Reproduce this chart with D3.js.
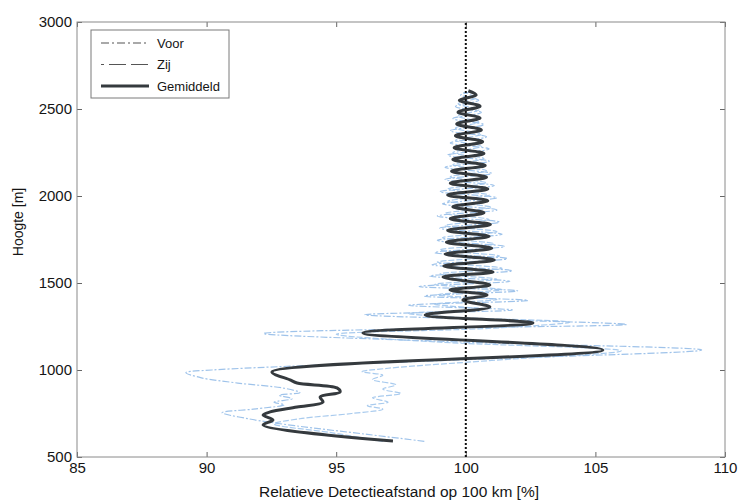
<!DOCTYPE html>
<html><head><meta charset="utf-8">
<script src="https://cdn.jsdelivr.net/npm/d3@7"></script>
<style>
body{margin:0;background:#fff;}
text{font-family:"Liberation Sans",Arial,sans-serif;fill:#151515;}
</style></head>
<body><svg id="c" width="740" height="504"></svg>
<script>
const xTicks = [85, 90, 95, 100, 105, 110];
const yTicks = [500, 1000, 1500, 2000, 2500, 3000];
const seriesNames = ["Voor", "Zij", "Gemiddeld"];

const voorHeight = [590,630,680,720,755,775,800,815,835,855,870,895,925,955,985,1000,1060,1115,1160,1210,1240,1262,1290,1318,1345,1372,1400,1425,1455,1480,1510,1540,1570,1605,1640,1675,1710,1745,1780,1815,1850,1885,1920,1955,1990,2025,2060,2095,2130,2165,2200,2235,2270,2305,2340,2375,2410,2445,2480,2515,2550,2580,2600];
const voorValue = [98.4,96.2,93.4,91.6,90.6,91.8,93.0,92.6,93.3,92.8,93.6,93.0,91.2,89.8,89.2,90.2,100,109.1,100,92.2,99,106.2,101,96.1,101.8,97.8,102.4,98.4,102.0,98.2,101.7,98.6,101.8,98.7,101.6,98.8,101.5,98.9,101.4,99.0,101.3,98.9,101.2,99.1,101.2,99.0,101.1,99.2,101.0,99.2,100.9,99.3,100.9,99.4,100.8,99.4,100.7,99.5,100.6,99.6,100.5,99.8,100.2];

const zijHeight = [590,640,690,720,750,775,795,815,840,865,890,915,945,970,990,1010,1060,1110,1160,1205,1240,1275,1300,1325,1350,1378,1405,1432,1462,1492,1522,1552,1585,1620,1655,1690,1725,1760,1795,1830,1865,1900,1935,1970,2005,2040,2075,2110,2145,2180,2215,2250,2285,2320,2355,2390,2425,2460,2495,2530,2565,2595];
const zijValue = [96.8,94.8,92.6,93.6,95.6,96.8,96.2,97.0,96.4,97.5,96.8,97.3,96.4,96.8,96.0,97.0,101.5,106.0,99,95.0,101,104.0,100,97.8,100.6,98.8,101.2,98.9,101.4,98.8,101.2,99.0,101.4,98.9,101.3,99.0,101.1,99.1,101.2,99.2,100.9,99.2,101.0,99.3,100.9,99.3,100.8,99.4,100.8,99.5,100.7,99.5,100.6,99.6,100.6,99.6,100.5,99.7,100.5,99.7,100.4,99.9];

const gemHeight = [592,684,713,741,759,787,816,845,874,897,925,943,989,1115,1213,1270,1316,1362,1402,1431,1460,1489,1534,1563,1598,1632,1666,1700,1734,1768,1802,1836,1870,1904,1938,1972,2006,2040,2074,2108,2142,2176,2210,2244,2278,2312,2346,2380,2414,2448,2482,2516,2550,2580,2605];
const gemValue = [97.19,92.18,92.56,92.18,92.45,93.49,94.49,94.38,95.15,95.03,93.49,93.22,92.52,105.29,96.03,102.59,98.43,100.93,99.89,100.82,99.39,100.93,99.12,101.05,99.15,101.1,99.2,101.0,99.25,100.9,99.3,100.95,99.4,100.7,99.5,100.85,99.3,100.85,99.4,100.8,99.45,100.75,99.5,100.7,99.55,100.65,99.6,100.6,99.65,100.55,99.7,100.55,99.75,100.4,100.1];

const svg = d3.select("#c");
const x = d3.scaleLinear().domain([85, 110]).range([77, 725]);
const y = d3.scaleLinear().domain([500, 3000]).range([457, 22]);

// axes
const gx = svg.append("g").attr("transform", `translate(0,${y(500)})`)
  .call(d3.axisBottom(x).tickValues(xTicks).tickSize(-5).tickPadding(5).tickFormat(d3.format("d")));
const gxTop = svg.append("g").attr("transform", `translate(0,${y(3000)})`)
  .call(d3.axisTop(x).tickValues(xTicks).tickSize(-5).tickFormat(""));
const gy = svg.append("g").attr("transform", `translate(${x(85)},0)`)
  .call(d3.axisLeft(y).tickValues(yTicks).tickSize(-5).tickPadding(5).tickFormat(d3.format("d")));
const gyR = svg.append("g").attr("transform", `translate(${x(110)},0)`)
  .call(d3.axisRight(y).tickValues(yTicks).tickSize(-5).tickFormat(""));
[gx, gxTop, gy, gyR].forEach(g => {
  g.select(".domain").remove();
  g.selectAll(".tick line").attr("stroke", "#666");
  g.selectAll("text").style("font-size", "15px").style("font-family", "Liberation Sans, Arial, sans-serif").attr("fill", "#151515");
});
svg.append("rect").attr("x", x(85)).attr("y", y(3000))
  .attr("width", x(110) - x(85)).attr("height", y(500) - y(3000))
  .attr("fill", "none").attr("stroke", "#8a8a8a").attr("stroke-width", 1);

const line = d3.line().x(d => x(d[0])).y(d => y(d[1])).curve(d3.curveCatmullRom.alpha(0.5));
const voor = voorValue.map((v, i) => [v, voorHeight[i]]);
const zij = zijValue.map((v, i) => [v, zijHeight[i]]);
const gem = gemValue.map((v, i) => [v, gemHeight[i]]);

svg.append("path").datum(zij).attr("d", line).attr("fill", "none")
  .attr("stroke", "#a9cbee").attr("stroke-width", 1.2).attr("stroke-dasharray", "6,2");
svg.append("path").datum(voor).attr("d", line).attr("fill", "none")
  .attr("stroke", "#9fc3ea").attr("stroke-width", 1.2).attr("stroke-dasharray", "7,2,2,2");
svg.append("path").datum(gem).attr("d", line).attr("fill", "none")
  .attr("stroke", "#353a3e").attr("stroke-width", 3).attr("stroke-linejoin", "round");

// reference line at 100 %
svg.append("line").attr("x1", x(100)).attr("x2", x(100)).attr("y1", y(500)).attr("y2", y(3000))
  .attr("stroke", "#111").attr("stroke-width", 2).attr("stroke-dasharray", "2,2");

// legend
const lg = svg.append("g");
lg.append("rect").attr("x", 91).attr("y", 30).attr("width", 138).attr("height", 68)
  .attr("fill", "#fff").attr("stroke", "#7a7a7a").attr("stroke-width", 1);
const lstyles = [
  {dash: "8,3,2,3", w: 1.2, c: "#555"},
  {dash: "3,5,14,0", w: 1.2, c: "#555"},
  {dash: null, w: 3, c: "#353a3e"}
];
seriesNames.forEach((n, i) => {
  const yy = 43 + i * 21.5;
  const l = lg.append("line").attr("x1", 101).attr("x2", 149).attr("y1", yy).attr("y2", yy)
    .attr("stroke", lstyles[i].c).attr("stroke-width", lstyles[i].w);
  if (lstyles[i].dash) l.attr("stroke-dasharray", lstyles[i].dash);
  lg.append("text").attr("x", 157).attr("y", yy + 4.5).style("font-size", "13px").text(n);
});

svg.append("text").attr("x", 399).attr("y", 497).attr("text-anchor", "middle")
  .style("font-size", "15.5px").text("Relatieve Detectieafstand op 100 km [%]");
svg.append("text").attr("transform", "translate(23,222) rotate(-90)").attr("text-anchor", "middle")
  .style("font-size", "14px").text("Hoogte [m]");
</script></body></html>
